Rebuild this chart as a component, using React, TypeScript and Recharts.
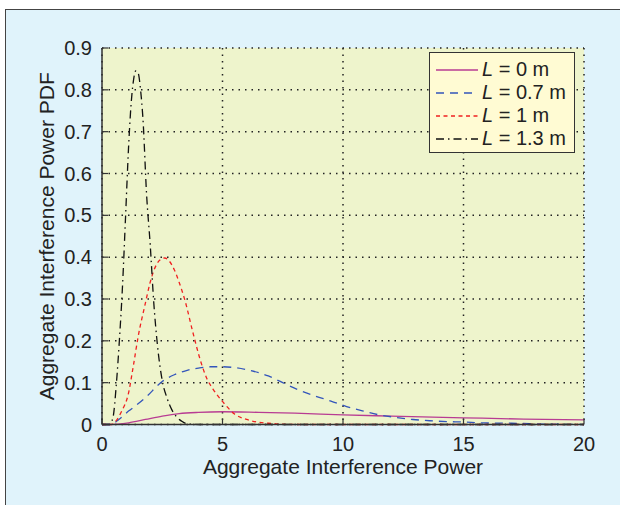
import { CartesianGrid, Legend, Line, LineChart, XAxis, YAxis } from "recharts";

const FONT = '"Liberation Sans", Arial, Helvetica, sans-serif';

const X_TICKS = [0, 5, 10, 15, 20];
const Y_TICKS = [0, 0.1, 0.2, 0.3, 0.4, 0.5, 0.6, 0.7, 0.8, 0.9];

// L = 0 m
const L0_X = [0, 0.3, 1.1, 1.8, 2.5, 3.2, 4.0, 5.0, 6.5, 8, 10, 12, 15, 17.5, 20];
const L0_Y = [0, 0, 0.004, 0.012, 0.02, 0.026, 0.029, 0.0305, 0.029, 0.027, 0.023, 0.02, 0.016, 0.013, 0.011];

// L = 0.7 m
const L07_X = [0, 0.35, 0.7, 1.1, 1.4, 1.8, 2.5, 3.0, 3.5, 4.0, 4.5, 5.0, 5.5, 6.0, 6.9, 7.5, 8.1, 8.8, 9.5, 10.15, 10.85, 11.5, 12.2, 12.9, 13.6, 14.3, 15, 15.7, 17, 18.5, 20];
const L07_Y = [0, 0, 0.012, 0.032, 0.045, 0.064, 0.103, 0.119, 0.129, 0.135, 0.138, 0.138, 0.136, 0.131, 0.116, 0.1, 0.084, 0.069, 0.056, 0.043, 0.032, 0.023, 0.017, 0.012, 0.009, 0.007, 0.006, 0.004, 0.003, 0.001, 0];

// L = 1 m
const L1_X = [0, 0.4, 0.6, 0.8, 1.1, 1.3, 1.5, 1.8, 2.0, 2.2, 2.4, 2.6, 2.8, 3.0, 3.2, 3.45, 3.75, 4.1, 4.35, 4.6, 5.0, 5.5, 6.0, 6.9, 8, 20];
const L1_Y = [0, 0, 0.01, 0.03, 0.075, 0.14, 0.21, 0.29, 0.34, 0.375, 0.393, 0.398, 0.39, 0.37, 0.34, 0.295, 0.225, 0.15, 0.11, 0.085, 0.055, 0.025, 0.012, 0.003, 0, 0];

// L = 1.3 m
const L13_X = [0, 0.3, 0.45, 0.6, 0.72, 0.85, 0.98, 1.1, 1.2, 1.3, 1.4, 1.5, 1.6, 1.7, 1.85, 2.0, 2.15, 2.3, 2.5, 2.7, 2.9, 3.1, 3.3, 3.5, 4, 20];
const L13_Y = [0, 0, 0.015, 0.1, 0.2, 0.33, 0.5, 0.66, 0.76, 0.82, 0.845, 0.84, 0.8, 0.73, 0.55, 0.43, 0.29, 0.19, 0.105, 0.063, 0.035, 0.018, 0.008, 0.002, 0, 0];

type Point = { x: number; y: number };

function zip(xs: number[], ys: number[]): Point[] {
  return xs.map((x, i) => ({ x, y: ys[i] }));
}

type Series = {
  id: string;
  label: string;
  color: string;
  dash?: string;
  data: Point[];
};

const SERIES: Series[] = [
  { id: "l0", label: "0", color: "#b83c93", data: zip(L0_X, L0_Y) },
  { id: "l07", label: "0.7", color: "#3355bb", dash: "8 6", data: zip(L07_X, L07_Y) },
  { id: "l1", label: "1", color: "#f02020", dash: "4 3.5", data: zip(L1_X, L1_Y) },
  { id: "l13", label: "1.3", color: "#111111", dash: "8 4 1.5 4", data: zip(L13_X, L13_Y) },
];

function LegendBox() {
  return (
    <div
      style={{
        boxSizing: "border-box",
        width: 146,
        height: 101,
        border: "1.5px solid #333",
        background: "#fffbd3",
        paddingTop: 5,
        fontFamily: FONT,
        fontSize: 20,
        color: "#222",
      }}
    >
      {SERIES.map((s) => (
        <div key={s.id} style={{ display: "flex", alignItems: "center", height: 23 }}>
          <svg width={52} height={10} style={{ flex: "none" }}>
            <line
              x1={6}
              x2={48}
              y1={5}
              y2={5}
              stroke={s.color}
              strokeWidth={1.4}
              strokeDasharray={s.dash}
            />
          </svg>
          <span style={{ whiteSpace: "nowrap", lineHeight: "23px" }}>
            <i>L</i> = {s.label} m
          </span>
        </div>
      ))}
    </div>
  );
}

export default function App() {
  const axisLine = { stroke: "#333", strokeWidth: 1.5 };
  const tickLine = { stroke: "#333", strokeWidth: 1.2 };
  return (
    <div style={{ position: "absolute", left: 0, top: 0, width: 620, height: 505, background: "#fff" }}>
      <div
        style={{
          position: "absolute",
          left: 5,
          top: 9,
          width: 615,
          height: 496,
          boxSizing: "border-box",
          borderTop: "1.5px solid #444",
          borderLeft: "1.5px solid #444",
          background: "#e0f3fb",
        }}
      />
      <div style={{ position: "absolute", left: 0, top: 0 }}>
        <LineChart
          width={620}
          height={505}
          margin={{ top: 48, right: 36, left: 42, bottom: 25.5 }}
          style={{ fontFamily: FONT }}
        >
          <CartesianGrid
            fill="#eef4cc"
            stroke="#222"
            strokeWidth={1.5}
            strokeDasharray="1.5 5"
          />
          <XAxis
            dataKey="x"
            type="number"
            domain={[0, 20]}
            ticks={X_TICKS}
            height={55}
            tickSize={-6}
            tickMargin={18}
            axisLine={axisLine}
            tickLine={tickLine}
            tick={{ fontSize: 20, fill: "#222", fontFamily: FONT }}
            label={{
              value: "Aggregate Interference Power",
              position: "insideBottom",
              offset: 6,
              fontSize: 21,
              fill: "#222",
              fontFamily: FONT,
            }}
          />
          <XAxis
            xAxisId="top"
            orientation="top"
            type="number"
            domain={[0, 20]}
            ticks={X_TICKS}
            height={0}
            tickSize={-6}
            tick={false}
            axisLine={axisLine}
            tickLine={tickLine}
          />
          <YAxis
            type="number"
            domain={[0, 0.9]}
            ticks={Y_TICKS}
            width={60}
            tickSize={-6}
            tickMargin={16}
            axisLine={axisLine}
            tickLine={tickLine}
            tick={{ fontSize: 20, fill: "#222", fontFamily: FONT }}
            tickFormatter={(v) => (v === 0 ? "0" : Number(v).toFixed(1))}
            label={{
              content: (props: any) => {
                const vb = props.viewBox ?? { x: 42, y: 48, height: 376 };
                const cx = vb.x + 11.5;
                const cy = vb.y + vb.height / 2;
                return (
                  <text
                    x={cx}
                    y={cy}
                    transform={`rotate(-90 ${cx} ${cy})`}
                    textAnchor="middle"
                    fontSize={21}
                    fill="#222"
                    fontFamily={FONT}
                  >
                    Aggregate Interference Power PDF
                  </text>
                );
              },
            }}
          />
          <YAxis
            yAxisId="right"
            orientation="right"
            type="number"
            domain={[0, 0.9]}
            ticks={Y_TICKS}
            width={0}
            tickSize={-6}
            tick={false}
            axisLine={axisLine}
            tickLine={tickLine}
          />
          <Legend
            layout="vertical"
            align="center"
            verticalAlign="middle"
            wrapperStyle={{ left: 429, top: 52, width: 146, height: 101 }}
            content={() => <LegendBox />}
          />
          {SERIES.map((s) => (
            <Line
              key={s.id}
              data={s.data}
              dataKey="y"
              name={s.id}
              type="monotone"
              stroke={s.color}
              strokeWidth={1.3}
              strokeDasharray={s.dash}
              dot={false}
              activeDot={false}
              isAnimationActive={false}
            />
          ))}
        </LineChart>
      </div>
    </div>
  );
}
